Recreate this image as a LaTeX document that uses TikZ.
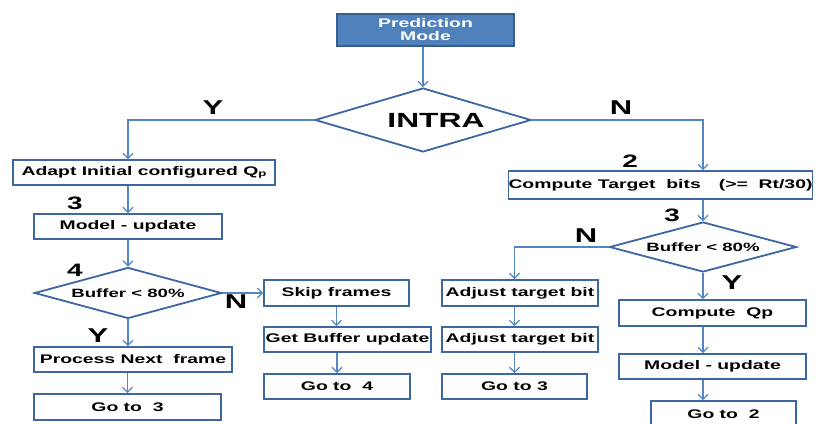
\documentclass[tikz,border=0pt]{standalone}
\usepackage{fontspec}
\newfontfamily\fw{Liberation Sans}[FakeStretch=1.55]
\usetikzlibrary{shapes.geometric,arrows.meta,calc}
\definecolor{bxc}{HTML}{3D67A2}
\definecolor{lnc}{HTML}{5586C4}
\definecolor{pfill}{HTML}{4F81BD}
\definecolor{pdraw}{HTML}{385D8A}
\tikzset{
  stepbox/.style={draw=bxc, line width=1.8pt, fill=white, inner sep=0pt,
    font=\fw\bfseries\fontsize{12.5}{14}\selectfont},
  decision/.style={shape=diamond, draw=bxc, line width=1.8pt, fill=white,
    inner sep=0pt, aspect=3.5},
  link/.style={draw=lnc, line width=1.2pt,
    -{Straight Barb[length=5pt,width=10pt,line width=1.2pt]}},
  tag/.style={font=\fw\bfseries\fontsize{20}{20}\selectfont, inner sep=0pt},
  numtag/.style={font=\fw\bfseries\fontsize{18}{18}\selectfont, inner sep=0pt},
}
\newcommand{\subp}{\raisebox{-1pt}{\fontsize{8.5}{9}\selectfont p}}
\begin{document}
\begin{tikzpicture}[x=1pt,y=-1pt]
\useasboundingbox (0,0) rectangle (821,423);
\clip (0,0) rectangle (821,423);
\fill[white] (0,0) rectangle (821,423);

% top of the chart
\node[stepbox, fill=pfill, draw=pdraw, text=white, minimum width=177pt,
  minimum height=32pt, align=center, font=\fw\bfseries\fontsize{12.5}{13}\selectfont]
  (pred) at (425.5,30) {Prediction\\Mode};
\node[decision, minimum width=216pt, minimum height=64pt,
  font=\fw\bfseries\fontsize{20.5}{21}\selectfont] (intra) at (423,120)
  {\hspace*{26pt}INTRA};

% intra branch
\node[stepbox, minimum width=262pt, minimum height=25pt] (adapt) at (144,172.5)
  {Adapt Initial configured Q\subp};
\node[stepbox, minimum width=188pt, minimum height=25pt] (model1) at (128,226.5)
  {Model - update};
\node[decision, minimum width=187pt, minimum height=51pt,
  font=\fw\bfseries\fontsize{12}{13}\selectfont] (buf1) at (128,293) {Buffer < 80\%};
\node[stepbox, minimum width=145pt, minimum height=26pt] (skip) at (336.5,293)
  {Skip frames};
\node[stepbox, minimum width=167pt, minimum height=25pt] (getbuf) at (347.5,339.5)
  {Get Buffer update};
\node[stepbox, minimum width=146pt, minimum height=25pt] (goto4) at (337,386.5)
  {Go to\ \ 4};
\node[stepbox, minimum width=198pt, minimum height=25pt] (next) at (133,359.5)
  {Process Next\ \ frame};
\node[stepbox, minimum width=187pt, minimum height=26pt] (goto3a) at (127.5,407)
  {Go to\ \ 3};

% inter branch
\node[stepbox, minimum width=293pt, minimum height=28pt] (target) at (660.5,185)
  {Compute Target\ \ bits\hspace{18pt}(>=\ \ Rt/30)};
\node[decision, minimum width=187pt, minimum height=50pt,
  font=\fw\bfseries\fontsize{12}{13}\selectfont] (buf2) at (703,247) {Buffer < 80\%};
\node[stepbox, minimum width=156pt, minimum height=26pt] (adj1) at (520,293)
  {Adjust target bit};
\node[stepbox, minimum width=156pt, minimum height=25pt] (adj2) at (520,339.5)
  {Adjust target bit};
\node[stepbox, minimum width=145pt, minimum height=25pt] (goto3b) at (514.5,386.5)
  {Go to 3};
\node[stepbox, minimum width=187pt, minimum height=26pt] (cqp) at (712.5,313)
  {Compute\ \ Qp};
\node[stepbox, minimum width=187pt, minimum height=25pt] (model2) at (712.5,366.5)
  {Model - update};
\node[stepbox, minimum width=145pt, minimum height=26pt] (goto2) at (723.5,414)
  {Go to\ \ 2};

% connectors
\draw[link] (pred.south -| intra.north) -- (intra.north);
\draw[link] (intra.west) -| (model1.north |- adapt.north);
\draw[link] (intra.east) -| (buf2.north |- target.north);
\draw[link] (adapt.south -| model1.north) -- (model1.north);
\draw[link] (model1.south) -- (buf1.north);
\draw[link] (buf1.east) -- (skip.west);
\draw[link] (buf1.south) -- (buf1.south |- next.north);
\draw[link] (goto3a.north |- next.south) -- (goto3a.north);
\draw[link] (skip.south) -- (skip.south |- getbuf.north);
\draw[link] (goto4.north |- getbuf.south) -- (goto4.north);
\draw[link] (target.south -| buf2.north) -- (buf2.north);
\draw[link] (buf2.west) -| (goto3b.north |- adj1.north);
\draw[link] (goto3b.north |- adj1.south) -- (goto3b.north |- adj2.north);
\draw[link] (goto3b.north |- adj2.south) -- (goto3b.north);
\draw[link] (buf2.south) -- (buf2.south |- cqp.north);
\draw[link] (buf2.south |- cqp.south) -- (buf2.south |- model2.north);
\draw[link] (buf2.south |- model2.south) -- (buf2.south |- goto2.north);

% branch labels
\node[tag] (yintra) at (213,108) {Y};
\node[tag] (nintra) at (621,108) {N};
\node[tag] (nbuf1) at (236,302) {N};
\node[tag] (ybuf1) at (98,336) {Y};
\node[tag] (nbuf2) at (586,236) {N};
\node[tag] (ybuf2) at (732,283) {Y};
\node[numtag] (lbl2) at (630,161) {2};
\node[numtag] (lbl3a) at (75,203) {3};
\node[numtag] (lbl4) at (75,270) {4};
\node[numtag] (lbl3b) at (672,215) {3};
\end{tikzpicture}
\end{document}
